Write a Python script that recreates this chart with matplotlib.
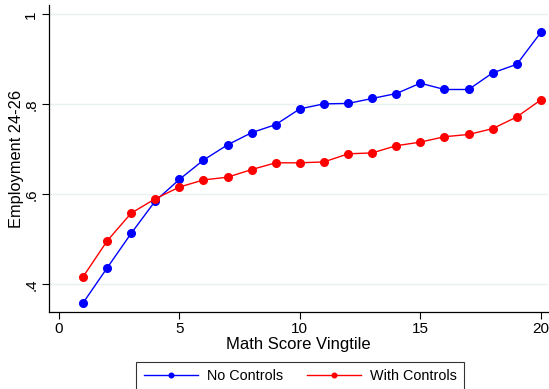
import numpy as np
import matplotlib.pyplot as plt

plt.rcParams['font.family'] = ['Liberation Sans', 'DejaVu Sans']

vingtile = np.arange(1, 21)
no_controls = [0.358, 0.436, 0.513, 0.585, 0.633, 0.676, 0.710, 0.737, 0.755, 0.790,
               0.801, 0.802, 0.813, 0.824, 0.847, 0.833, 0.833, 0.870, 0.889, 0.960]
with_controls = [0.416, 0.496, 0.558, 0.590, 0.616, 0.632, 0.638, 0.655, 0.670, 0.670,
                 0.672, 0.690, 0.692, 0.708, 0.716, 0.728, 0.733, 0.746, 0.772, 0.810]

fig = plt.figure(figsize=(5.49, 3.89), dpi=100)
ax = fig.add_axes([0.090, 0.198, 0.908, 0.789])

grid_col = '#e8f0f2'
for v in [0.4, 0.6, 0.8, 1.0]:
    ax.axhline(v, color=grid_col, lw=1.0, zorder=0)

ax.plot(vingtile, no_controls, color='#0000ff', lw=1.0, marker='o', ms=5.5,
        label='No Controls')
ax.plot(vingtile, with_controls, color='#ff0000', lw=1.0, marker='o', ms=5.5,
        label='With Controls')

ax.set_xlim(-0.39, 20.29)
ax.set_ylim(0.3384, 1.0207)
ax.set_xticks([0, 5, 10, 15, 20])
ax.set_yticks([0.4, 0.6, 0.8, 1.0])
ax.set_yticklabels(['.4', '.6', '.8', '1'], rotation=90, va='center')
ax.tick_params(axis='both', labelsize=11, length=5, width=0.8, color='black')
ax.tick_params(axis='x', pad=2)
ax.tick_params(axis='y', pad=3)

for side in ['top', 'right']:
    ax.spines[side].set_visible(False)
for side in ['left', 'bottom']:
    ax.spines[side].set_linewidth(0.9)

ax.set_xlabel('Math Score Vingtile', fontsize=12, labelpad=1)
ax.set_ylabel('Employment 24-26', fontsize=11.8, labelpad=0)

leg = fig.legend(loc='upper center', bbox_to_anchor=(0.547, 0.0694), ncol=2,
                 fontsize=10.4, markerscale=0.6, frameon=True, fancybox=False,
                 edgecolor='black', borderpad=0.5, borderaxespad=0,
                 columnspacing=1.7, handlelength=3.75, handletextpad=0.6)
leg.get_frame().set_linewidth(0.8)

fig.savefig('out.png', dpi=100)
